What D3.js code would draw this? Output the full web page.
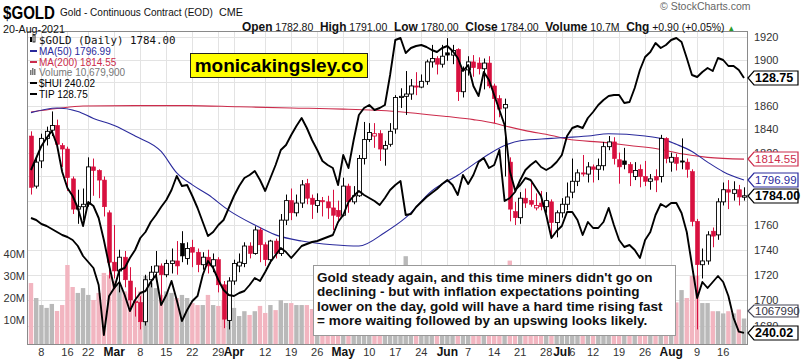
<!DOCTYPE html>
<html><head><meta charset="utf-8">
<script src="https://cdn.jsdelivr.net/npm/d3@7"></script>
<style>body{margin:0;background:#fff}svg{display:block;font-family:"Liberation Sans",Arial,sans-serif}</style>
</head><body><svg id="c" width="803" height="361"></svg>
<script>
// ---------------- DATA ----------------
const dates = ["02-04","02-05","02-08","02-09","02-10","02-11","02-12","02-16","02-17","02-18","02-19","02-22","02-23","02-24","02-25","02-26",
"03-01","03-02","03-03","03-04","03-05","03-08","03-09","03-10","03-11","03-12","03-15","03-16","03-17","03-18","03-19","03-22","03-23","03-24","03-25","03-26","03-29","03-30","03-31",
"04-01","04-05","04-06","04-07","04-08","04-09","04-12","04-13","04-14","04-15","04-16","04-19","04-20","04-21","04-22","04-23","04-26","04-27","04-28","04-29","04-30",
"05-03","05-04","05-05","05-06","05-07","05-10","05-11","05-12","05-13","05-14","05-17","05-18","05-19","05-20","05-21","05-24","05-25","05-26","05-27","05-28",
"06-01","06-02","06-03","06-04","06-07","06-08","06-09","06-10","06-11","06-14","06-15","06-16","06-17","06-18","06-21","06-22","06-23","06-24","06-25","06-28","06-29","06-30",
"07-01","07-02","07-06","07-07","07-08","07-09","07-12","07-13","07-14","07-15","07-16","07-19","07-20","07-21","07-22","07-23","07-26","07-27","07-28","07-29","07-30",
"08-02","08-03","08-04","08-05","08-06","08-09","08-10","08-11","08-12","08-13","08-16","08-17","08-18","08-19","08-20"];
const prevClose0 = 1835;
const open = [1834,1792,1813,1832,1839,1843,1826,1823,1798,1773,1775,1777,1808,1805,1797,1770,
1730,1723,1734,1715,1698,1698,1683,1716,1722,1727,1720,1729,1731,1745,1733,1742,1738,1728,1734,1727,1732,1712,1684,
1715,1727,1729,1743,1737,1756,1744,1732,1747,1737,1764,1780,1770,1778,1794,1782,1776,1780,1779,1774,1772,
1768,1792,1779,1784,1815,1831,1834,1836,1823,1827,1840,1867,1868,1870,1877,1876,1881,1898,1901,1896,
1906,1904,1909,1872,1891,1898,1897,1892,1897,1877,1866,1858,1812,1771,1766,1782,1780,1774,1778,1775,1779,1762,
1770,1777,1787,1796,1803,1802,1808,1806,1809,1825,1829,1814,1813,1810,1800,1806,1800,1796,1800,1800,1832,
1812,1816,1813,1812,1804,1763,1728,1731,1755,1752,1779,1789,1786,1789,1782.8];
const high = [1838,1817,1836,1842,1855,1848,1828,1825,1800,1789,1790,1816,1815,1806,1800,1772,
1760,1740,1739,1726,1710,1703,1720,1727,1739,1729,1732,1741,1747,1755,1746,1748,1741,1738,1740,1737,1734,1715,1718,
1732,1737,1746,1746,1759,1758,1746,1748,1749,1769,1785,1790,1785,1797,1798,1785,1786,1783,1784,1789,1780,
1799,1794,1792,1818,1846,1845,1845,1839,1830,1845,1869,1875,1890,1883,1889,1887,1900,1913,1903,1913,
1919,1913,1910,1894,1903,1904,1902,1901,1903,1879,1869,1866,1816,1779,1787,1790,1795,1786,1788,1787,1781,1772,
1782,1795,1815,1806,1818,1812,1810,1815,1829,1834,1833,1820,1824,1812,1812,1810,1813,1802,1806,1835,1833,
1820,1819,1832,1815,1806,1765,1741,1755,1758,1782,1795,1797,1796,1793,1791];
const low = [1785,1790,1807,1826,1834,1822,1808,1788,1769,1761,1764,1775,1784,1782,1767,1717,
1717,1706,1710,1691,1687,1677,1680,1710,1716,1699,1718,1721,1720,1730,1728,1726,1722,1724,1721,1722,1706,1678,1677,
1712,1722,1726,1733,1736,1730,1727,1729,1733,1735,1760,1764,1767,1774,1777,1765,1770,1767,1765,1756,1762,
1767,1770,1777,1783,1810,1829,1824,1813,1809,1825,1836,1858,1852,1865,1869,1875,1878,1893,1887,1893,
1899,1896,1864,1867,1886,1885,1887,1874,1875,1845,1850,1800,1763,1760,1761,1774,1775,1772,1772,1770,1751,1750,
1766,1772,1782,1792,1800,1795,1795,1797,1805,1822,1810,1794,1806,1792,1797,1791,1792,1789,1787,1795,1811,
1804,1805,1806,1799,1759,1677,1717,1728,1742,1748,1776,1773,1780,1776,1780];
const close = [1791,1812,1832,1838,1843,1827,1823,1799,1773,1775,1777,1808,1805,1797,1775,1730,
1723,1734,1716,1700,1699,1683,1716,1722,1727,1720,1729,1731,1727,1735,1741,1738,1728,1734,1727,1732,1712,1685,1715,
1729,1730,1743,1737,1756,1744,1732,1747,1737,1764,1780,1770,1778,1793,1782,1777,1780,1779,1774,1768,1767,
1792,1779,1784,1815,1831,1837,1836,1823,1826,1838,1867,1868,1870,1877,1876,1881,1898,1901,1896,1903,
1904,1908,1872,1891,1898,1893,1892,1897,1877,1866,1857,1861,1773,1766,1782,1778,1777,1776,1775,1780,1762,1770,
1777,1783,1796,1803,1802,1808,1806,1809,1825,1829,1815,1808,1810,1803,1805,1800,1796,1798,1797,1832,1815,
1816,1811,1812,1806,1763,1728,1731,1752,1751,1779,1789,1787,1789,1783,1784];
// volume in millions
const volume = [26.8,20,16.8,15.5,17.3,14.1,16.8,35,25,22.3,24.5,21.4,19.1,22.3,31.4,30.5,
27.7,26,23,22,18.6,23,30,27,24.5,21.4,23,22.3,20,21.4,20,17.7,16.8,16.8,21.4,16.8,16.4,19,17,
15.5,11.8,14,12.3,14,16.4,13.2,16.8,14.5,19,17.7,17.7,16.8,16.8,16.8,15,13,14,16,18,15,
17,18,15,24,26,20,18,22,19,17,25,24,39,20,18,16,22,24,19,16,
21,18,26,22,15,14,15,17,20,19,18,28,37,30,22,16,14,13,12,14,17,20,
15,13,17,15,16,14,12,15,18,16,15,14,13,14,12,12,13,14,17,22,19,
16,18,23.6,20,30,30,17.7,17.7,14,14,13,14,13,14.8,10.68];
const hui = [288.9,292.5,296.1,298.5,300.6,296.4,288.3,283.5,281.1,277.5,
272.1,279.3,278.1,274.5,267.9,260.4,253.5,258.9,259.5,262.5,
264.9,268.5,270.3,273.3,275.4,277.8,279.9,282.9,287.1,284.1,
284.4,281.1,277.5,273.3,269.1,270.3,272.4,273.9,277.5,281.1,
284.1,286.5,287.4,288.6,285.9,282.6,286.5,290.4,294.9,296.4,
299.4,302.1,304.5,301.5,297.9,294.9,291.6,290.4,289.5,284.4,
293.4,289.5,297.9,305.4,307.5,308.4,306.9,307.5,308.4,317.4,
327.9,328.5,324.0,325.5,326.1,326.4,325.8,324.9,324.3,325.5,
326.1,324.6,322.5,318.6,320.4,314.1,311.1,318.3,315.9,311.4,
306.9,302.4,288.6,282.9,284.4,286.5,285.9,283.5,281.1,275.4,
268.5,270.6,272.1,276.3,276.3,273.9,269.4,273.3,271.5,271.5,
273.3,277.5,272.4,267.9,265.8,266.4,264.9,262.5,267.9,270.3,
275.4,278.7,277.8,279.0,279.0,276.0,270.3,260.4,250.5,255.3,
253.5,255.3,257.1,255.3,251.1,244.5,240.4,240.02];
const tip = [125.95,125.91,125.83,125.79,125.73,125.67,125.61,125.57,125.51,125.39,
125.19,125.07,124.95,124.61,123.61,124.39,124.55,124.67,124.41,124.09,
124.31,124.45,124.49,124.67,124.81,124.21,124.41,124.69,124.31,123.89,
124.11,124.29,124.39,124.81,125.09,124.95,124.71,124.51,124.41,124.39,
124.45,124.49,124.61,124.75,124.69,124.87,125.07,125.21,125.35,125.27,
125.15,125.27,125.39,125.43,125.47,125.49,125.53,125.57,125.61,125.87,
126.01,126.27,126.39,126.49,126.41,126.35,126.29,126.21,126.35,126.51,
126.61,126.69,126.01,126.03,126.17,126.27,126.37,126.45,126.53,126.63,
126.71,126.61,126.41,126.81,126.63,126.81,127.07,127.15,126.95,127.01,
127.31,126.29,126.35,126.47,126.71,126.91,127.01,127.09,126.97,126.91,
126.97,127.07,127.21,127.59,127.75,127.79,127.75,127.95,128.07,128.21,
128.31,128.39,128.41,128.41,128.25,128.27,128.55,128.91,129.17,129.27,
129.45,129.35,129.41,129.51,129.55,129.47,129.15,128.81,128.77,128.87,
128.95,128.89,129.15,129.11,128.99,128.99,128.91,128.75];
const ma50Idx = [0,5,9,12,16,20,25,28,31,34,38,43,47,52,58,63,68,72,77,82,87,91,94,100,107,111,118,121,124,127,130,133,137];
const ma50Val = [1854,1858,1855,1849,1843,1834,1821,1803,1793,1785,1772,1760,1752,1747,1744,1743,1754,1766,1788,1801,1816,1826,1830,1832,1834,1836,1834,1832,1827,1821,1812,1804,1796.99];
const ma200Idx = [0,5,10,20,30,40,50,60,70,80,85,89,91,95,100,103,110,115,120,125,130,137];
const ma200Val = [1854.5,1857.5,1859.7,1860,1860,1859,1858,1857,1855,1850.6,1848,1845,1842.7,1838.6,1834.5,1831.5,1828.6,1826,1823.5,1819,1816,1814.55];
const priceTicks = [1680,1700,1720,1740,1760,1780,1800,1820,1840,1860,1880,1900,1920];
const volTicks = [10,20,30,40];
const tickDates = ["02-08","02-16","02-22","03-01","03-08","03-15","03-22","03-29","04-01","04-12","04-19","04-26","05-03","05-10","05-17","05-24","06-01","06-07","06-14","06-21","06-28","07-01","07-06","07-12","07-19","07-26","08-02","08-09","08-16"];
const tickLabels = ["8","16","22","Mar","8","15","22","29","Apr","12","19","26","May","10","17","24","Jun","7","14","21","28","Jul","6","12","19","26","Aug","9","16"];
const noteLines = ["Gold steady again, and this time miners didn't go on","declining - but with inflation expectations pointing","lower on the day, gold will have a hard time rising fast","= more waiting followed by an upswing looks likely."];

// ---------------- DRAW ----------------
const svg = d3.select("#c");
const P = {l:27.5, t:31.5, r:747.5, b:344.5};
const RED = "#d8103f", BLUE = "#2a2a9c", MRED = "#cc2c4c";
const x = d3.scaleLinear().domain([0, dates.length-1]).range([31, 744]);
const y = d3.scaleLog().domain([1700,1920]).range([300,37]);
const yv = d3.scaleLinear().domain([0,40]).range([342,254]);
const yh = d3.scaleLinear().domain([240,328.5]).range([333,38]);
const yt = d3.scaleLinear().domain([128.75,129.55]).range([78,38]);
const px = v => Math.round(v)+0.5;

svg.append("defs").append("clipPath").attr("id","pc").append("rect")
  .attr("x",P.l).attr("y",P.t).attr("width",P.r-P.l).attr("height",P.b-P.t);

// grid
const grid = svg.append("g").attr("stroke","#e3e3e3").attr("stroke-width",1);
priceTicks.forEach(p=>grid.append("line").attr("x1",P.l).attr("x2",P.r).attr("y1",px(y(p))).attr("y2",px(y(p))));
tickDates.forEach(d=>{const i=dates.indexOf(d); grid.append("line").attr("x1",px(x(i))).attr("x2",px(x(i))).attr("y1",P.t).attr("y2",P.b);});

const pg = svg.append("g").attr("clip-path","url(#pc)");
const pc = i => i===0 ? prevClose0 : close[i-1];

// volume
pg.append("g").selectAll("rect").data(volume).join("rect")
  .attr("x",(d,i)=>x(i)-2.2).attr("width",4.4)
  .attr("y",d=>yv(d)).attr("height",d=>yv(0)-yv(d)+3)
  .attr("fill",(d,i)=> close[i] < pc(i) ? "#f2b5c0" : "#b9b9b9");

// MA lines
const line = d3.line().x(d=>x(d[0])).y(d=>y(d[1])).curve(d3.curveMonotoneX);
pg.append("path").attr("d",line(ma200Idx.map((d,k)=>[d,ma200Val[k]]))).attr("fill","none").attr("stroke",MRED).attr("stroke-width",1.1);
pg.append("path").attr("d",line(ma50Idx.map((d,k)=>[d,ma50Val[k]]))).attr("fill","none").attr("stroke",BLUE).attr("stroke-width",1.1);

// candles
const cg = pg.append("g");
dates.forEach((d,i)=>{
  const col = close[i] < pc(i) ? RED : "#000";
  const cx = px(x(i));
  cg.append("line").attr("x1",cx).attr("x2",cx).attr("y1",y(high[i])).attr("y2",y(low[i])).attr("stroke",col).attr("stroke-width",1);
  const top = y(Math.max(open[i],close[i])), bot = y(Math.min(open[i],close[i]));
  const hollow = close[i] > open[i];
  cg.append("rect").attr("x",cx-2).attr("width",4).attr("y",top).attr("height",Math.max(1,bot-top))
    .attr("fill",hollow?"#fff":col).attr("stroke",col).attr("stroke-width",hollow?0.9:0.6);
});

// overlays
const lh = d3.line().x((d,i)=>x(i)).y(d=>yh(d));
const lt = d3.line().x((d,i)=>x(i)).y(d=>yt(d));
pg.append("path").attr("d",lh(hui)).attr("fill","none").attr("stroke","#000").attr("stroke-width",1.9).attr("stroke-linejoin","round");
pg.append("path").attr("d",lt(tip)).attr("fill","none").attr("stroke","#000").attr("stroke-width",1.9).attr("stroke-linejoin","round");

// frame
svg.append("rect").attr("x",P.l).attr("y",P.t).attr("width",P.r-P.l).attr("height",P.b-P.t).attr("fill","none").attr("stroke","#8a8a8a");

// tag positions
const tags = [
  {v:hui[hui.length-1], yy:Math.round(yh(hui[hui.length-1])), h:7, s:"#000", f:"#000", b:true},
  {v:null, txt:"1067990", yy:Math.round(yv(volume[volume.length-1]))-8, h:6, s:"#445", f:"#334", b:false},
  {v:close[close.length-1], yy:Math.round(y(close[close.length-1])), h:7, s:"#000", f:"#000", b:true},
  {v:ma50Val[ma50Val.length-1], yy:Math.round(y(ma50Val[ma50Val.length-1])), h:7, s:BLUE, f:BLUE, b:false},
  {v:ma200Val[ma200Val.length-1], yy:Math.round(y(ma200Val[ma200Val.length-1])), h:7, s:MRED, f:MRED, b:false},
  {v:tip[tip.length-1], yy:Math.round(yt(tip[tip.length-1])), h:7, s:"#000", f:"#000", b:true}];

// right axis labels (those fully under a tag are hidden, as in the original)
priceTicks.forEach(p=>{
  const yy = y(p);
  if (tags.some(t=>Math.abs(t.yy-yy)<6)) return;
  svg.append("text").attr("x",754).attr("y",yy+4).attr("font-size",11).attr("fill","#333").text(p);
});
// volume labels
volTicks.forEach(v=>svg.append("text").attr("x",25).attr("y",yv(v)+4).attr("text-anchor","end").attr("font-size",11).attr("fill","#333").text(v+"M"));
// x labels
tickDates.forEach((d,k)=>{const i=dates.indexOf(d); const lab=tickLabels[k]; const bold=isNaN(+lab);
  svg.append("text").attr("x",x(i)).attr("y",356).attr("text-anchor","middle").attr("font-size",bold?12:11)
   .attr("font-weight",bold?"bold":null).attr("fill",bold?"#111":"#333").text(lab);});

// tags
tags.forEach(t=>{
  const yy=t.yy, h=t.h, g = svg.append("g");
  g.append("path").attr("d",`M748,${yy} L754,${yy-h} L798,${yy-h} L798,${yy+h} L754,${yy+h} Z`).attr("fill","#fff").attr("stroke",t.s).attr("stroke-width",1.2);
  g.append("text").attr("x",755).attr("y",yy+4.2).attr("font-size",t.b?12.5:11.5).attr("font-weight",t.b?"bold":null).attr("fill",t.f).text(t.txt || t.v.toFixed(2));
});

// watermark
svg.append("rect").attr("x",190.5).attr("y",53.5).attr("width",177).attr("height",24).attr("fill","#ffff00").attr("stroke","#222");
svg.append("text").attr("x",279).attr("y",72).attr("text-anchor","middle").attr("font-size",19).attr("font-weight","bold").text("monicakingsley.co");

// annotation
svg.append("rect").attr("x",313.5).attr("y",265.5).attr("width",362).attr("height",70).attr("fill","#fff").attr("stroke","#999");
const nt = noteLines.map((s,k)=>svg.append("text").attr("x",317).attr("y",282+k*14.4).attr("font-size",13.5).attr("font-weight","bold").attr("fill","#111").text(s));
const w3 = nt[2].node().getComputedTextLength();
const fs = 13.5*346/w3; nt.forEach(t=>t.attr("font-size",fs));

// legend
const lg = svg.append("g");
lg.append("rect").attr("x",30).attr("y",37).attr("width",2).attr("height",5).attr("fill","#000");
lg.append("rect").attr("x",33).attr("y",35).attr("width",2).attr("height",7).attr("fill","none").attr("stroke","#000").attr("stroke-width",0.8);
lg.append("text").attr("x",39).attr("y",44).attr("font-family","DejaVu Sans Mono, monospace").attr("font-size",10.8).attr("fill","#111").text("$GOLD (Daily) "+close[close.length-1].toFixed(2));
const legRows = [
  {t:"MA(50) "+ma50Val[ma50Val.length-1].toFixed(2), c:BLUE, y:51},
  {t:"MA(200) "+ma200Val[ma200Val.length-1].toFixed(2), c:MRED, y:62},
  {t:"Volume 10,679,900", c:"#777", y:72, vol:true},
  {t:"$HUI "+hui[hui.length-1].toFixed(2), c:"#000", y:83},
  {t:"TIP "+tip[tip.length-1].toFixed(2), c:"#000", y:94}];
legRows.forEach(r=>{
  if(r.vol){ [0,2,4].forEach((o,k)=>lg.append("rect").attr("x",30+o).attr("y",r.y-[2,4,3][k]).attr("width",1.5).attr("height",[5,7,6][k]).attr("fill","#777")); }
  else lg.append("line").attr("x1",30).attr("x2",37).attr("y1",r.y).attr("y2",r.y).attr("stroke",r.c).attr("stroke-width",2);
  lg.append("text").attr("x",39).attr("y",r.y+4).attr("font-size",10).attr("fill",r.c).text(r.t);
});

// header: fit each text to its width by font size
function sizeFit(xx, yb, txt, size, w, bold, col){
  const t = svg.append("text").attr("x",xx).attr("y",yb).attr("font-size",size).attr("font-weight",bold?"bold":null).attr("fill",col||"#111").text(txt);
  const nw = t.node().getComputedTextLength();
  t.attr("font-size", size*w/nw);
  return t;
}
const gt = svg.append("g");
const gtxt = gt.append("text").attr("x",0).attr("y",0).attr("font-size",18).attr("font-weight","bold").attr("fill","#000").text("$GOLD");
gt.attr("transform",`translate(3,18.5) scale(${52/gtxt.node().getComputedTextLength()},1)`);
sizeFit(60, 16, "Gold - Continuous Contract (EOD)", 12.5, 153, false);
sizeFit(219, 16, "CME", 10.5, 24, false);
sizeFit(3, 32.5, "20-Aug-2021", 12, 62, false);
const hg = svg.append("g");
let hx = 0;
[{t:"Open",s:12.5,b:1,g:3},{t:"1782.80",s:11,g:7},
 {t:"High",s:12.5,b:1,g:3},{t:"1791.00",s:11,g:7},
 {t:"Low",s:12.5,b:1,g:3},{t:"1780.00",s:11,g:7},
 {t:"Close",s:12.5,b:1,g:3},{t:"1784.00",s:11,g:7},
 {t:"Volume",s:12.5,b:1,g:3},{t:"10.7M",s:11,g:7},
 {t:"Chg",s:12.5,b:1,g:3},{t:"+0.90 (+0.05%)",s:11,g:3},{t:"▲",s:8,c:"#2a9a2a"}].forEach(p=>{
  const t = hg.append("text").attr("x",hx).attr("y",0).attr("font-size",p.s).attr("font-weight",p.b?"bold":null).attr("fill",p.c||"#111").text(p.t);
  hx += t.node().getComputedTextLength() + (p.g||0);
});
hg.attr("transform",`translate(242,31) scale(${493/hx},1)`);
svg.append("text").attr("x",660).attr("y",10).attr("font-size",10.5).attr("fill","#666").text("© StockCharts.com");
</script></body></html>
